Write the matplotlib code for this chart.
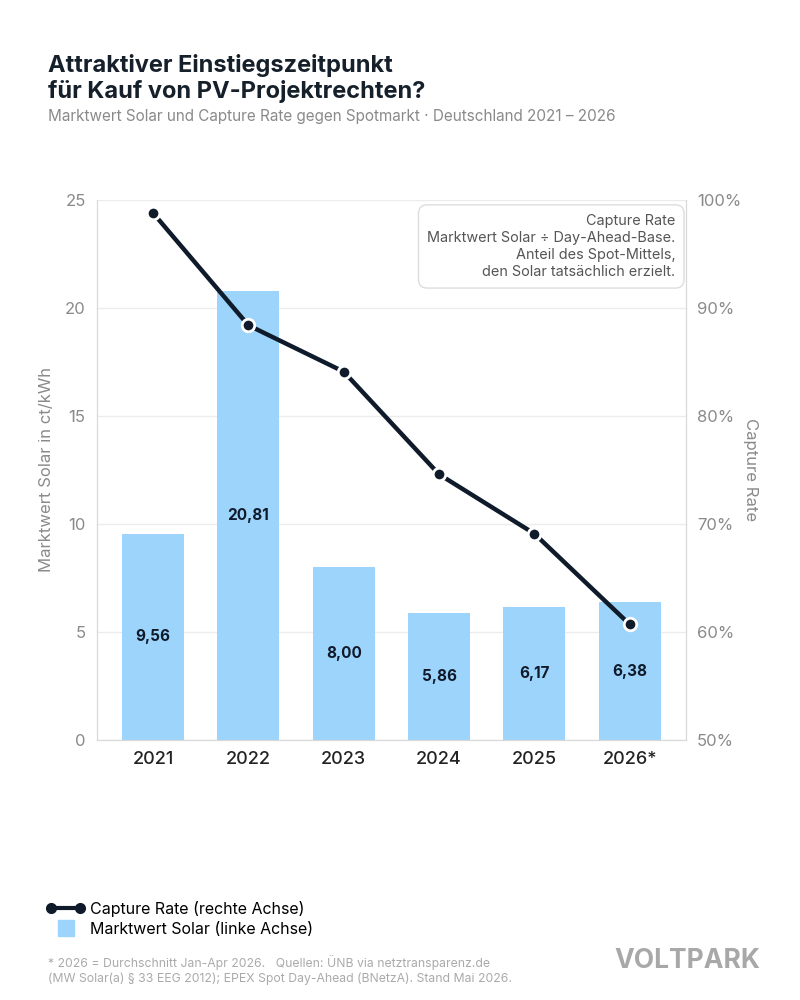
import numpy as np
import matplotlib.pyplot as plt
from matplotlib.lines import Line2D
from matplotlib.legend_handler import HandlerLine2D

plt.rcParams['font.family'] = ['Inter', 'DejaVu Sans']

years = ['2021', '2022', '2023', '2024', '2025', '2026*']
marktwert = [9.56, 20.81, 8.00, 5.86, 6.17, 6.38]        # ct/kWh
capture_rate = [98.8, 88.4, 84.1, 74.6, 69.1, 60.7]        # %
left_ticks = [0, 5, 10, 15, 20, 25]
right_ticks = [50, 60, 70, 80, 90, 100]

BAR = '#9dd4fb'
LINE = '#0f1b2a'
GREY = '#8a8a8a'
SPINE = '#d9d9d9'

fig = plt.figure(figsize=(8, 10), dpi=100)
ax = fig.add_axes([0.121, 0.26, 0.7365, 0.54])
x = np.arange(len(years))

ax.bar(x, marktwert, width=0.65, color=BAR, zorder=2)
for xi, v in zip(x, marktwert):
    ax.text(xi, v / 2, f'{v:.2f}'.replace('.', ','), ha='center', va='center',
            fontsize=11, fontweight='bold', color=LINE, zorder=3)

ax.set_xlim(-0.59, len(years) - 1 + 0.59)
ax.set_ylim(0, 25)
ax.set_yticks(left_ticks)
ax.set_xticks(x)
ax.set_xticklabels(years, fontsize=13, color='#222222', fontweight='medium')
ax.tick_params(axis='y', labelsize=12, labelcolor=GREY, length=0, pad=8)
ax.tick_params(axis='x', length=0, pad=8)
ax.grid(True, axis='y', color='#ececec', linewidth=1, zorder=0)
ax.set_axisbelow(True)
ax.set_ylabel('Marktwert Solar in ct/kWh', fontsize=12, color=GREY, labelpad=8)
ax.spines['top'].set_visible(False)
for s in ['left', 'right', 'bottom']:
    ax.spines[s].set_color(SPINE)

ax2 = ax.twinx()
ax2.set_ylim(50, 100)
ax2.set_yticks(right_ticks)
ax2.set_yticklabels([f'{t}%' for t in right_ticks])
ax2.tick_params(axis='y', labelsize=12, labelcolor=GREY, length=0, pad=8)
ax2.set_ylabel('Capture Rate', fontsize=12, color=GREY, rotation=270, labelpad=12)
ax2.spines['top'].set_visible(False)
for s in ['left', 'right', 'bottom']:
    ax2.spines[s].set_color(SPINE)
ax2.plot(x, capture_rate, color=LINE, linewidth=3.2, marker='o', markersize=9,
         markerfacecolor=LINE, markeredgecolor='white', markeredgewidth=2, zorder=4)

ax2.text(0.982, 0.975, 'Capture Rate\nMarktwert Solar ÷ Day-Ahead-Base.\nAnteil des Spot-Mittels,\n'
         'den Solar tatsächlich erzielt.', transform=ax2.transAxes, ha='right', va='top',
         fontsize=10.4, color='#555555', linespacing=1.3,
         bbox=dict(boxstyle='round,pad=0.6,rounding_size=0.6', facecolor='white',
                   edgecolor='#dddddd', linewidth=1))

fig.text(0.06, 0.897, 'Attraktiver Einstiegszeitpunkt\nfür Kauf von PV-Projektrechten?',
         fontsize=17, fontweight='bold', color='#15202b', va='bottom', linespacing=1.15)
fig.text(0.06, 0.884, 'Marktwert Solar und Capture Rate gegen Spotmarkt · Deutschland 2021 – 2026',
         fontsize=11, color=GREY, va='center')

# legend: line with end markers, small square for the bars
h_line = Line2D([], [], color=LINE, linewidth=3, marker='o', markersize=7,
                markerfacecolor=LINE, markeredgecolor=LINE)
h_bar = Line2D([], [], linestyle='none', marker='s', markersize=11,
               markerfacecolor=BAR, markeredgecolor=BAR)
fig.legend([h_line, h_bar], ['Capture Rate (rechte Achse)', 'Marktwert Solar (linke Achse)'],
           loc='upper left', bbox_to_anchor=(0.05, 0.105), frameon=False, fontsize=11.5,
           handlelength=2.4, handleheight=1.0, handletextpad=0.3, labelspacing=0.25,
           borderaxespad=0, numpoints=2,
           handler_map={h_bar: HandlerLine2D(numpoints=1)})

fig.text(0.06, 0.03, '* 2026 = Durchschnitt Jan-Apr 2026.   Quellen: ÜNB via netztransparenz.de\n'
         '(MW Solar(a) § 33 EEG 2012); EPEX Spot Day-Ahead (BNetzA). Stand Mai 2026.',
         fontsize=8.8, color='#aaaaaa', va='center', linespacing=1.3)
fig.text(0.95, 0.026, 'VOLTPARK', fontsize=19, fontweight='bold', color='#a8a8a8',
         ha='right', va='bottom')

fig.savefig('out.png', dpi=100, facecolor='white')
